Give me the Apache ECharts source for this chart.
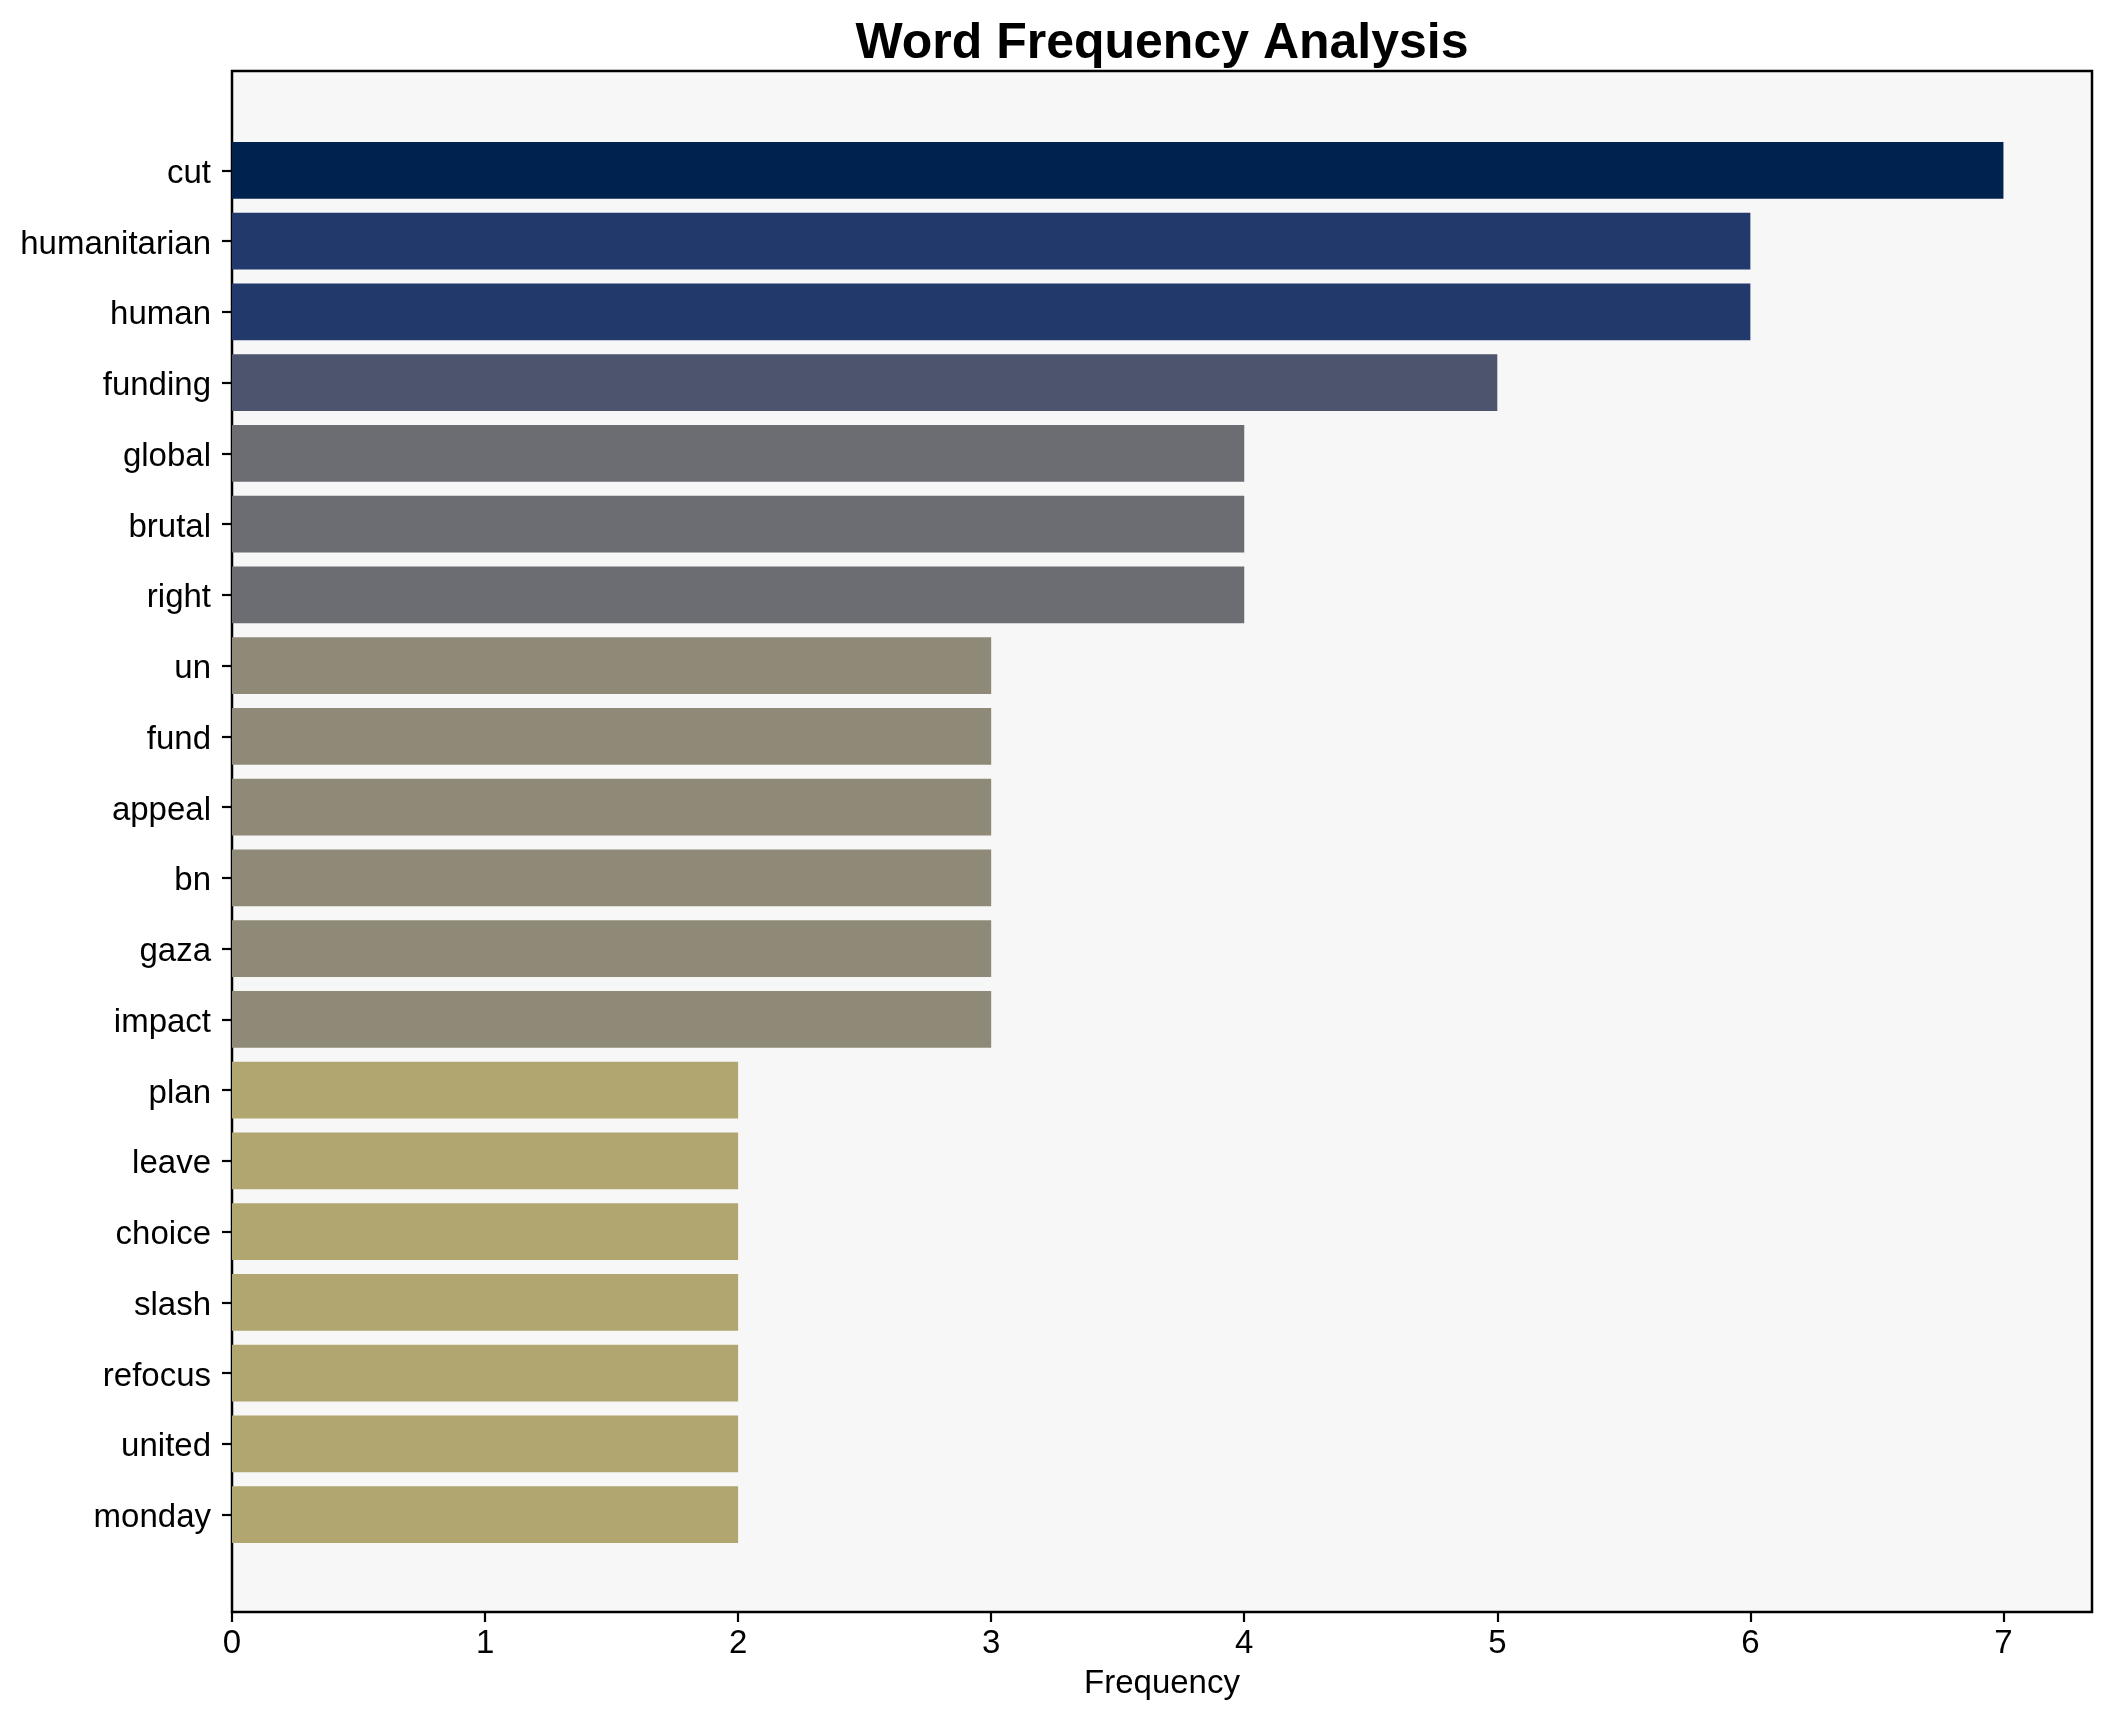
<!DOCTYPE html>
<html>
<head>
<meta charset="utf-8">
<script src="https://cdn.jsdelivr.net/npm/echarts@6/dist/echarts.min.js"></script>
<style>
html,body{margin:0;padding:0;background:#fff;}
#chart{width:2112px;height:1722px;}
</style>
</head>
<body>
<div id="chart"></div>
<script>
const words = ["cut","humanitarian","human","funding","global","brutal","right","un","fund","appeal","bn","gaza","impact","plan","leave","choice","slash","refocus","united","monday"];
const counts = [7,6,6,5,4,4,4,3,3,3,3,3,3,2,2,2,2,2,2,2];
const xTicks = [0,1,2,3,4,5,6,7];
const colorByCount = {7:"#00224e",6:"#223a6b",5:"#4c556d",4:"#6c6d72",3:"#8f8a78",2:"#b1a66f"};

const font = "'Liberation Sans', Arial, sans-serif";
const L = 232, T = 71, W = 1860, H = 1541;
const xMax = 7.35;

const chart = echarts.init(document.getElementById('chart'));
chart.setOption({
  animation: false,
  backgroundColor: '#ffffff',
  graphic: [{
    type: 'text', x: L + W / 2, y: 19,
    style: { text: 'Word Frequency Analysis', font: "bold 50px " + font, fill: '#000', textAlign: 'center', textVerticalAlign: 'top' }
  }],
  grid: [
    { left: L, top: T, width: W, height: H, show: true, backgroundColor: '#f7f7f7', borderColor: '#000', borderWidth: 2.5, containLabel: false },
    { left: L, top: 135, width: W, height: 1415, containLabel: false }
  ],
  xAxis: [
    {
      gridIndex: 0, type: 'value', min: 0, max: xMax, interval: 1,
      splitLine: { show: false },
      axisLine: { show: false },
      axisTick: { show: true, length: 10, inside: false, customValues: xTicks, lineStyle: { color: '#000', width: 2.2 } },
      axisLabel: { customValues: xTicks, margin: 15, color: '#000', fontSize: 33, fontFamily: font },
      name: 'Frequency', nameLocation: 'middle', nameGap: 55,
      nameTextStyle: { color: '#000', fontSize: 33, fontFamily: font }
    },
    {
      gridIndex: 1, type: 'value', min: 0, max: xMax, show: false
    }
  ],
  yAxis: [
    { gridIndex: 0, type: 'value', min: 0, max: 1, show: false },
    {
      gridIndex: 1, type: 'category', data: words, inverse: true,
      axisLine: { show: false },
      axisTick: { show: true, alignWithLabel: true, length: 10, lineStyle: { color: '#000', width: 2.2 } },
      axisLabel: {
        margin: 21, color: '#000', fontSize: 33, fontFamily: font,
        formatter: v => '{w|' + v + '}',
        rich: { w: { color: '#000', fontSize: 33, fontFamily: font, padding: [7, 0, 0, 0] } }
      },
      splitLine: { show: false }
    }
  ],
  series: [{
    type: 'bar', xAxisIndex: 1, yAxisIndex: 1,
    barCategoryGap: '20%',
    data: counts.map(v => ({ value: v, itemStyle: { color: colorByCount[v] } }))
  }]
});
</script>
</body>
</html>
